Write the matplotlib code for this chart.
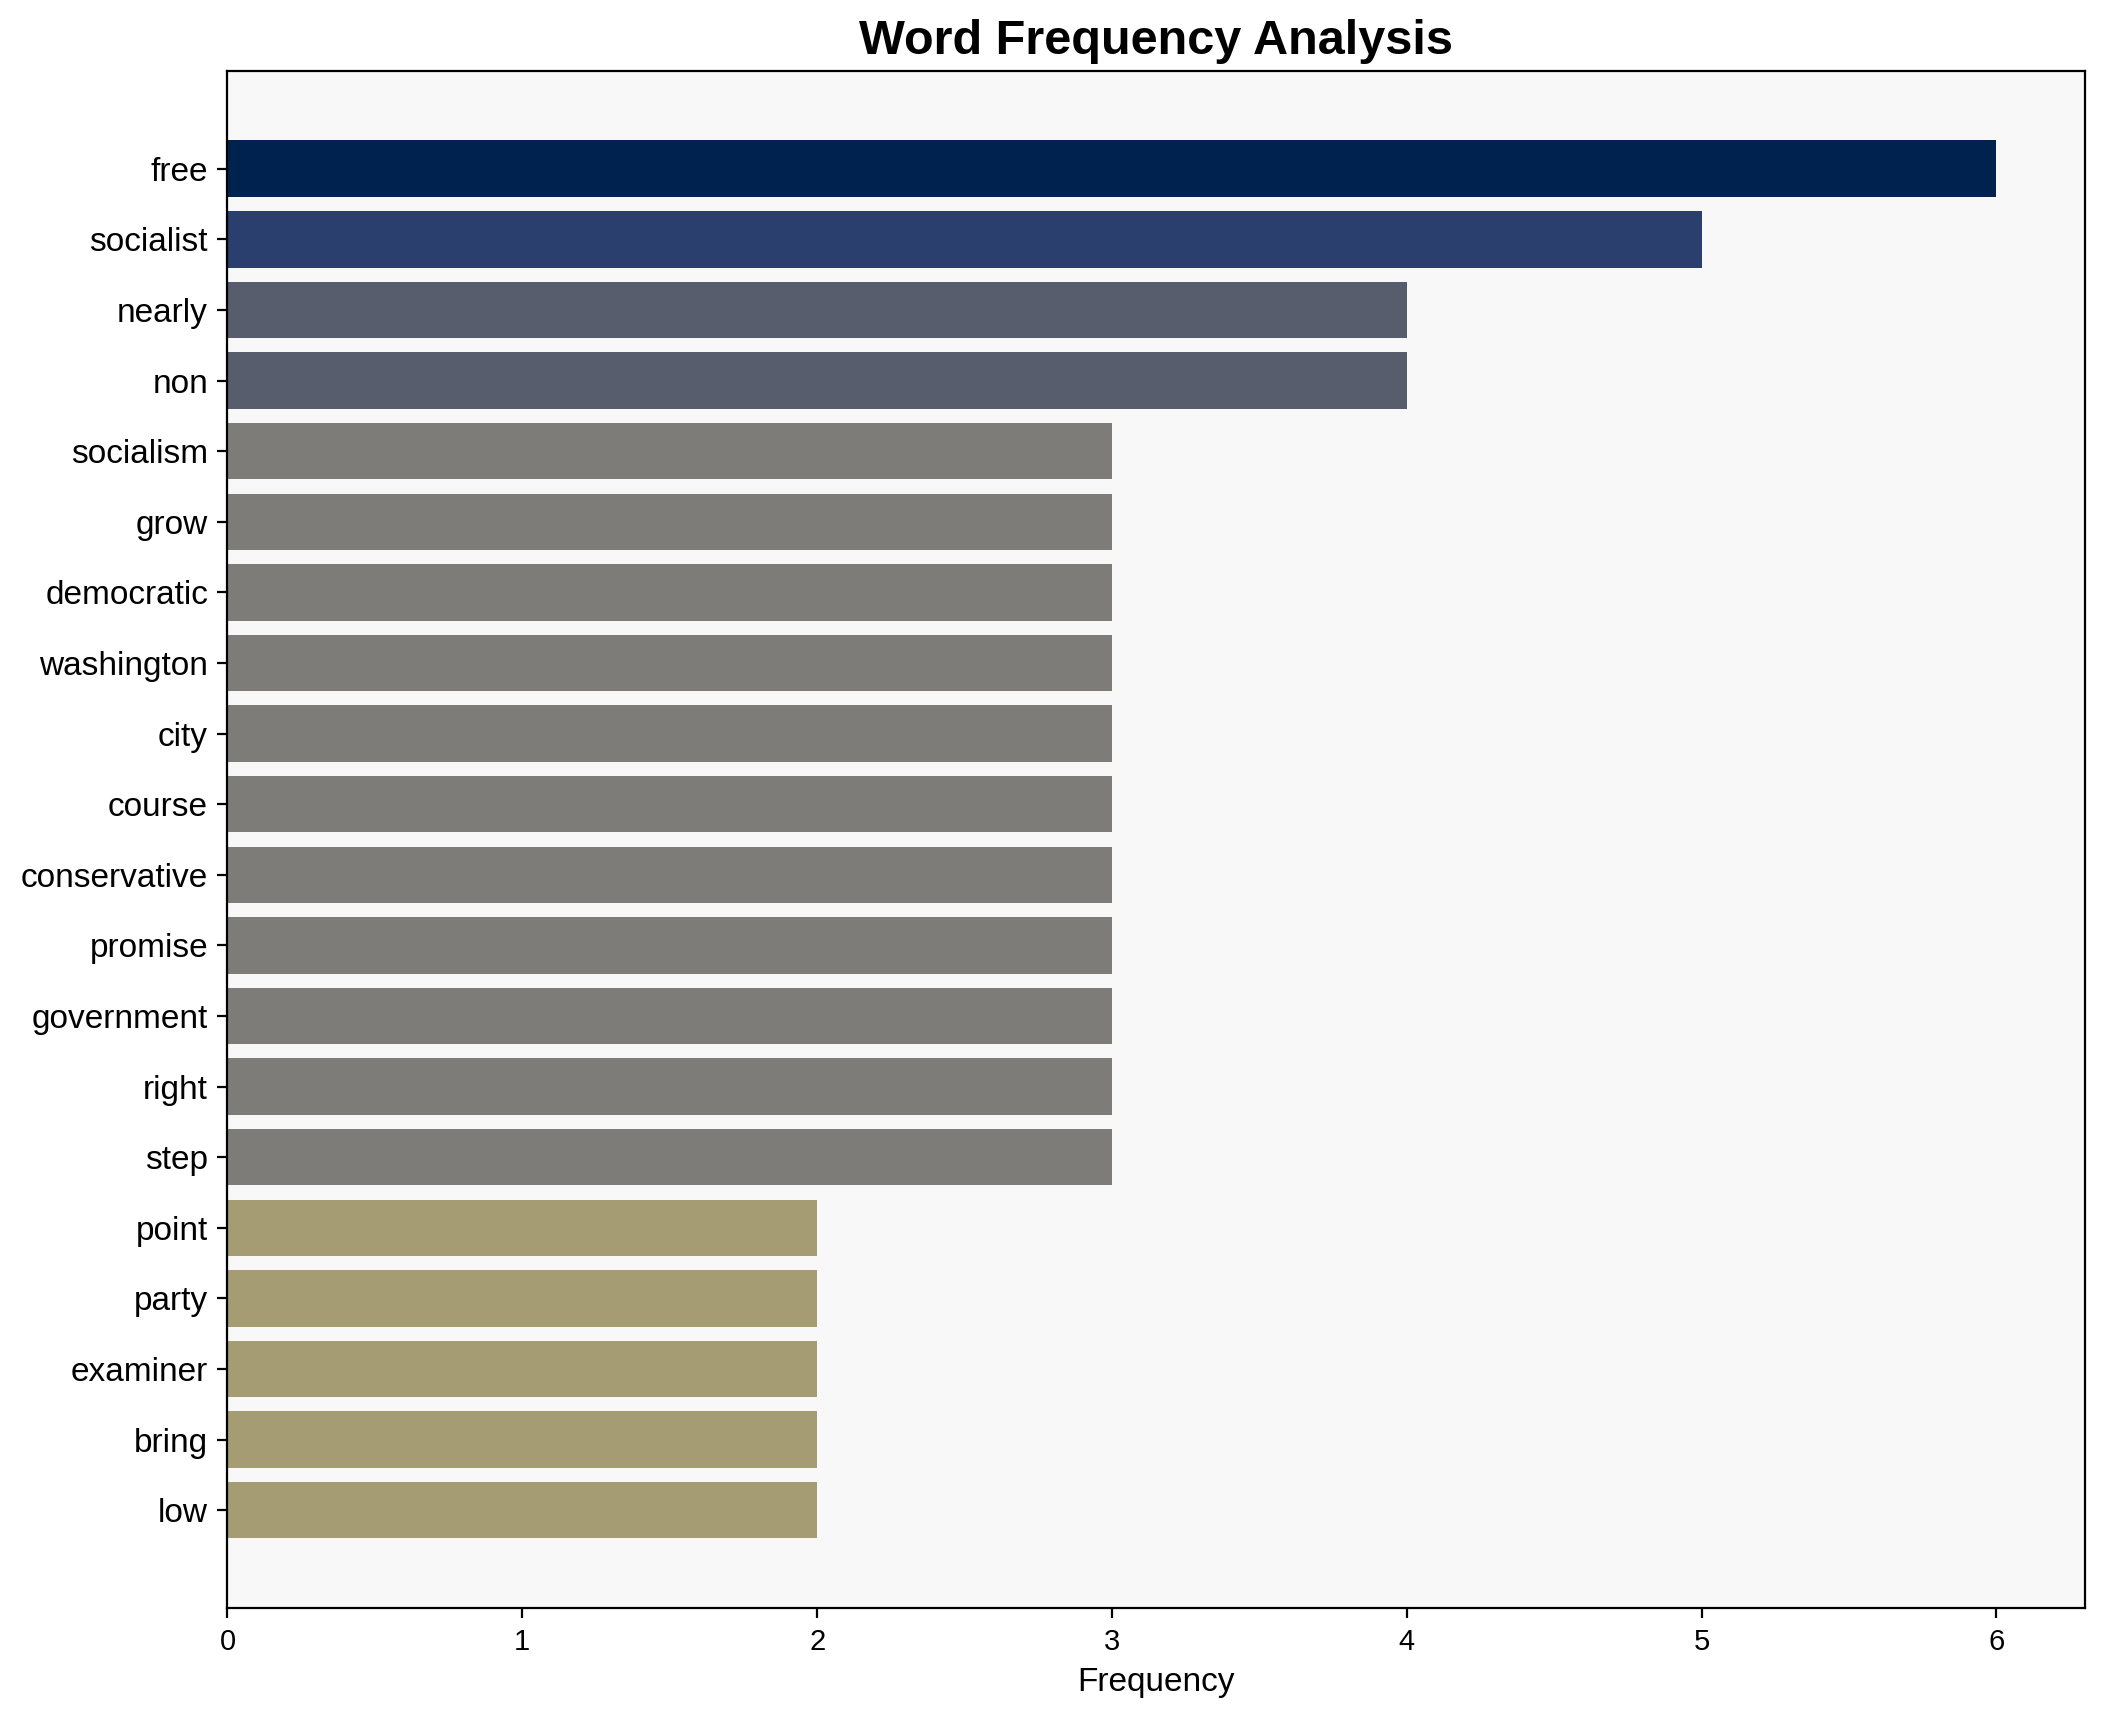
import matplotlib
matplotlib.use("Agg")
from matplotlib import pyplot as plt

plt.rcParams['font.family'] = ['Liberation Sans', 'DejaVu Sans']

words = ["free", "socialist", "nearly", "non", "socialism", "grow", "democratic",
         "washington", "city", "course", "conservative", "promise", "government",
         "right", "step", "point", "party", "examiner", "bring", "low"]
counts = [6, 5, 4, 4, 3, 3, 3, 3, 3, 3, 3, 3, 3, 3, 3, 2, 2, 2, 2, 2]

fig, ax = plt.subplots(figsize=(10.53, 8.61), dpi=200)
fig.subplots_adjust(left=0.108, right=0.99, top=0.959, bottom=0.066)

top = max(counts)
colors = [plt.cm.cividis(1 - c / top) for c in counts]
ax.barh(words, counts, color=colors, height=0.8)
ax.invert_yaxis()
ax.set_facecolor("#f8f8f8")

ax.set_title("Word Frequency Analysis", fontsize=17.5, fontweight="bold")
ax.set_xlabel("Frequency", fontsize=12)
ax.tick_params(axis="y", labelsize=12)
ax.tick_params(axis="x", labelsize=10.5)

plt.savefig("out.png", dpi=200)
